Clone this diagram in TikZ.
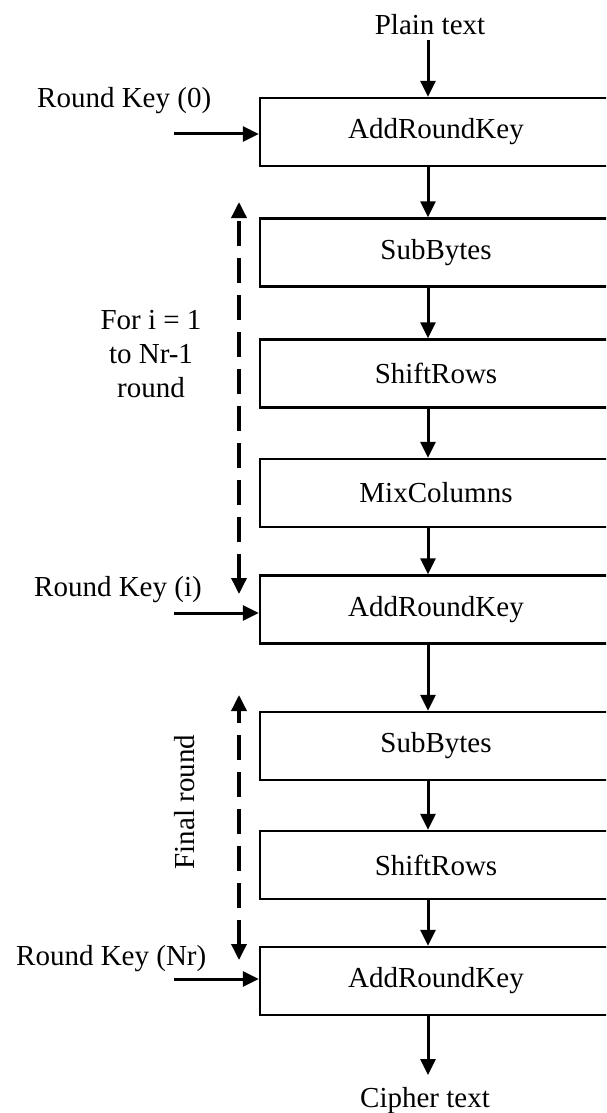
\documentclass[tikz,border=0pt]{standalone}
\usepackage{fontspec}
\setmainfont{Liberation Serif}
\usepackage{tikz}
\usetikzlibrary{arrows.meta,positioning,calc}

\tikzset{
  stagebox/.style={draw, line width=2.4pt, minimum width=352pt, minimum height=68pt, inner sep=0pt},
  lbl/.style={inner sep=0pt},
  flow/.style={-{Triangle[length=16pt,width=15pt]}, line width=3pt},
  roundspan/.style={{Triangle[length=16pt,width=15pt]}-{Triangle[length=16pt,width=15pt]}, line width=3.5pt, dash pattern=on 25pt off 12pt}
}

\begin{document}
\begin{tikzpicture}[x=1pt, y=-1pt, font=\fontsize{29}{34}\selectfont]
\useasboundingbox (0,0) rectangle (606,1113);
\clip (0,0) rectangle (606,1113);

\coordinate (colx) at (428,0);

% the stages of the cipher
\foreach \nm/\y/\txt in {ark0/132/AddRoundKey, sb1/252.5/SubBytes, sr1/373.5/ShiftRows, mc1/493/MixColumns,
                         ark1/609.5/AddRoundKey, sb2/746/SubBytes, sr2/865/ShiftRows, ark2/981/AddRoundKey}{
  \node[stagebox] (\nm) at (436,\y) {\txt};
}

\node[lbl, anchor=base] (plain) at (430,35) {Plain text};
\node[lbl, anchor=base] (cipher) at (425,1107) {Cipher text};

\draw[flow] (plain.south -| colx) ++(0,5) -- (ark0.north -| colx);
\foreach \a/\b in {ark0/sb1, sb1/sr1, sr1/mc1, mc1/ark1, ark1/sb2, sb2/sr2, sr2/ark2}{
  \draw[flow] (\a.south -| colx) -- (\b.north -| colx);
}
\coordinate (out) at (428,1075);
\draw[flow] (ark2.south -| colx) -- (out);

% round keys coming in from the left
\node[lbl, anchor=base west] (rk0) at (37,108) {Round Key (0)};
\node[lbl, anchor=base west] (rki) at (34,596) {Round Key (i)};
\node[lbl, anchor=base west] (rknr) at (16,965) {Round Key (Nr)};
\coordinate (k0) at (174,134);
\coordinate (ki) at (174,613);
\coordinate (knr) at (174,979);
\draw[flow] (k0) -- (k0 -| ark0.west);
\draw[flow] (ki) -- (ki -| ark1.west);
\draw[flow] (knr) -- (knr -| ark2.west);

% span of the main rounds and of the final round
\coordinate (m1) at (239,202);
\coordinate (m2) at (239,594);
\draw[roundspan] (m2) -- (m1);
\node[lbl, align=center, anchor=north] (mainlbl) at (151,310) {For i = 1\\to Nr-1\\round};

\coordinate (f1) at (239,695);
\coordinate (f2) at (239,960);
\draw[roundspan] (f2) -- (f1);
\node[lbl, rotate=90, anchor=base] (finallbl) at (194,802) {Final round};
\end{tikzpicture}
\end{document}
